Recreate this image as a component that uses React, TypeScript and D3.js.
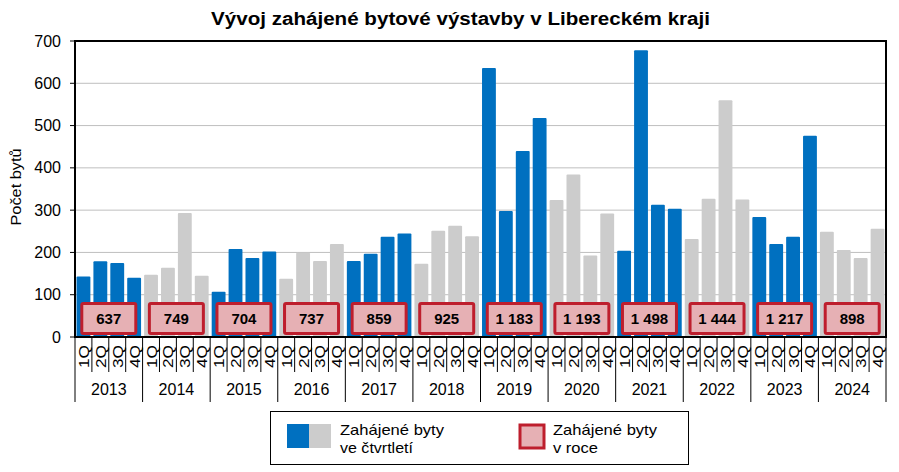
import React from "react";
import * as d3 from "d3";

const years = ["2013","2014","2015","2016","2017","2018","2019","2020","2021","2022","2023","2024"];
const quarters = ["1Q","2Q","3Q","4Q"];
const quarterly: number[][] = [
  [143, 179, 175, 140],
  [147, 164, 293, 145],
  [107, 208, 187, 202],
  [138, 199, 180, 220],
  [180, 197, 237, 245],
  [173, 251, 263, 238],
  [636, 298, 440, 518],
  [324, 384, 193, 292],
  [204, 678, 313, 303],
  [232, 327, 560, 325],
  [284, 220, 237, 476],
  [249, 206, 187, 256],
];
const annualLabels = ["637","749","704","737","859","925","1 183","1 193","1 498","1 444","1 217","898"];
const yTicks = [0, 100, 200, 300, 400, 500, 600, 700];

const FONT = "'Liberation Sans', Arial, sans-serif";
const BLUE = "#0070C0";
const GRAY = "#CCCCCC";
const RED = "#BE1E2D";
const PINK = "#E6B0B4";

export default function App() {
  const left = 75, right = 886, top = 41, bottom = 337;
  const n = years.length * 4;
  const x = d3.scaleBand<number>().domain(d3.range(n)).range([left, right]).paddingInner(0.18).paddingOuter(0.09);
  const step = (right - left) / n;
  const y = d3.scaleLinear().domain([0, 700]).range([bottom, top]);

  const bars = quarterly.flatMap((qs, yi) =>
    qs.map((v, qi) => ({ i: yi * 4 + qi, v, color: yi % 2 === 0 ? BLUE : GRAY }))
  );

  return (
    <svg width={899} height={472} style={{ position: "absolute", left: 0, top: 0, fontFamily: FONT }}>
      <rect x={0} y={0} width={899} height={472} fill="#fff" />
      <text x={211} y={25} fontSize={18} fontWeight="bold" fill="#000" textLength={499} lengthAdjust="spacingAndGlyphs">
        Vývoj zahájené bytové výstavby v Libereckém kraji
      </text>
      {/* gridlines */}
      {yTicks.slice(1).map((t) => (
        <line key={t} x1={left} x2={right} y1={y(t)} y2={y(t)} stroke="#BFBFBF" strokeWidth={1} />
      ))}
      {/* bars */}
      {bars.map((b) => (
        <rect key={b.i} x={x(b.i)} y={y(b.v)} width={x.bandwidth()} height={y(0) - y(b.v)} fill={b.color} rx={1} />
      ))}
      {/* annual boxes */}
      {annualLabels.map((lab, yi) => {
        const cx = left + step * (yi * 4 + 2);
        const w = 54, y0 = y(79), y1 = y(8);
        return (
          <g key={lab + yi}>
            <rect x={cx - w / 2} y={y0} width={w} height={y1 - y0} fill={PINK} stroke={RED} strokeWidth={3} rx={1.5} />
            <text x={cx} y={(y0 + y1) / 2 + 5.5} textAnchor="middle" fontSize={15} fontWeight="bold" fill="#000">
              {lab}
            </text>
          </g>
        );
      })}
      {/* plot border */}
      <rect x={left} y={top} width={right - left} height={bottom - top} fill="none" stroke="#000" strokeWidth={2} />
      {/* y axis ticks & labels */}
      {yTicks.map((t) => (
        <g key={t}>
          <line x1={left - 5} x2={left} y1={y(t)} y2={y(t)} stroke="#000" strokeWidth={1} />
          <text x={61} y={y(t) + 5.5} textAnchor="end" fontSize={16} fill="#000">{t}</text>
        </g>
      ))}
      <text transform={`translate(21,${(top + bottom) / 2 - 2}) rotate(-90)`} textAnchor="middle" fontSize={14} fill="#000" textLength={77} lengthAdjust="spacingAndGlyphs">
        Počet bytů
      </text>
      {/* x axis separators */}
      {d3.range(n + 1).map((i) => (
        <line key={i} x1={left + i * step} x2={left + i * step} y1={bottom} y2={i % 4 === 0 ? 402 : 372} stroke="#000" strokeWidth={1} />
      ))}
      {/* quarter labels */}
      {d3.range(n).map((i) => {
        const cx = left + step * (i + 0.5);
        return (
          <text key={i} transform={`translate(${cx + 5.5},368) rotate(-90)`} fontSize={15} fill="#000" textLength={23} lengthAdjust="spacingAndGlyphs">
            {quarters[i % 4]}
          </text>
        );
      })}
      {/* year labels */}
      {years.map((yr, yi) => (
        <text key={yr} x={left + step * (yi * 4 + 2)} y={395} textAnchor="middle" fontSize={16} fill="#000">
          {yr}
        </text>
      ))}
      {/* legend */}
      <rect x={270.5} y={411.5} width={418} height={53} fill="#fff" stroke="#000" strokeWidth={1} />
      <rect x={287} y={424} width={22} height={24} fill={BLUE} />
      <rect x={309} y={424} width={22} height={24} fill={GRAY} />
      <text x={340} y={435} fontSize={15} fill="#000" textLength={104} lengthAdjust="spacingAndGlyphs">Zahájené  byty</text>
      <text x={340} y={453} fontSize={15} fill="#000" textLength={73} lengthAdjust="spacingAndGlyphs">ve čtvrtletí</text>
      <rect x={520} y={425} width={24} height={23} fill={PINK} stroke={RED} strokeWidth={3} />
      <text x={553} y={435} fontSize={15} fill="#000" textLength={104} lengthAdjust="spacingAndGlyphs">Zahájené  byty</text>
      <text x={553} y={453} fontSize={15} fill="#000" textLength={45} lengthAdjust="spacingAndGlyphs">v roce</text>
    </svg>
  );
}
